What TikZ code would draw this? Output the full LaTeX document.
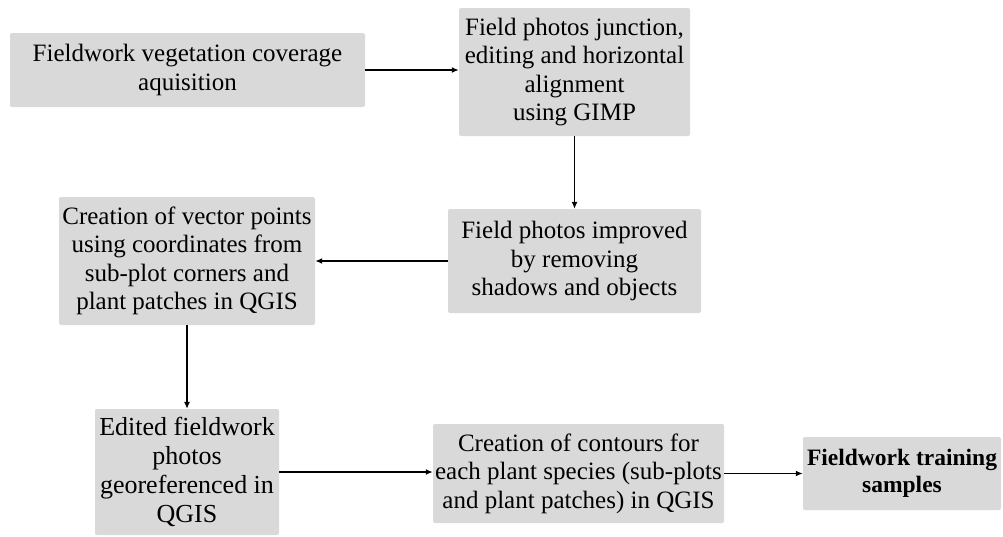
\documentclass[tikz,border=0pt]{standalone}
\usepackage{fontspec}
\setmainfont{Liberation Serif}
\usetikzlibrary{arrows.meta}
\definecolor{boxgray}{HTML}{D9D9D9}
\tikzset{
  stepbox/.style={rectangle, rounded corners=2pt, fill=boxgray, inner sep=0pt,
    align=center, font=\fontsize{25}{28.5}\selectfont},
  flow/.style={line width=1.5pt, -{Latex[length=7pt,width=6pt]}},
  vflow/.style={line width=1.2pt, -{Latex[length=7pt,width=6pt]}}
}
\begin{document}
\begin{tikzpicture}[x=1pt,y=-1pt]
\useasboundingbox (0,0) rectangle (1003,536);
\node[stepbox, minimum width=355pt, minimum height=74pt] (acq) at (187.5,70)
  {Fieldwork vegetation coverage\\aquisition};
\node[stepbox, minimum width=231pt, minimum height=128pt] (gimp) at (574.5,72)
  {Field photos junction,\\editing and horizontal\\alignment\\using GIMP};
\node[stepbox, minimum width=253pt, minimum height=104pt] (improve) at (574.5,261)
  {Field photos improved\\by removing\\shadows and objects};
\node[stepbox, minimum width=256pt, minimum height=128pt] (vector) at (187,261)
  {Creation of vector points\\using coordinates from\\sub-plot corners and\\plant patches in QGIS};
\node[stepbox, minimum width=184pt, minimum height=126pt,
  font=\fontsize{26}{29}\selectfont] (georef) at (187,472)
  {Edited fieldwork\\photos\\georeferenced in\\QGIS};
\node[stepbox, minimum width=291pt, minimum height=99pt] (contour) at (578.5,473.5)
  {Creation of contours for\\each plant species (sub-plots\\and plant patches) in QGIS};
\node[stepbox, minimum width=198pt, minimum height=73pt,
  font=\fontsize{23.5}{27}\selectfont\bfseries] (train) at (902,473.5)
  {Fieldwork training\\samples};
\draw[flow] (acq.east) -- (acq.east -| gimp.west);
\draw[vflow] (gimp.south) -- (improve.north);
\draw[flow] (improve.west) -- (vector.east);
\draw[vflow] (vector.south) -- (georef.north);
\draw[flow] (georef.east) -- (georef.east -| contour.west);
\draw[flow] (contour.east) -- (train.west);
\end{tikzpicture}
\end{document}
